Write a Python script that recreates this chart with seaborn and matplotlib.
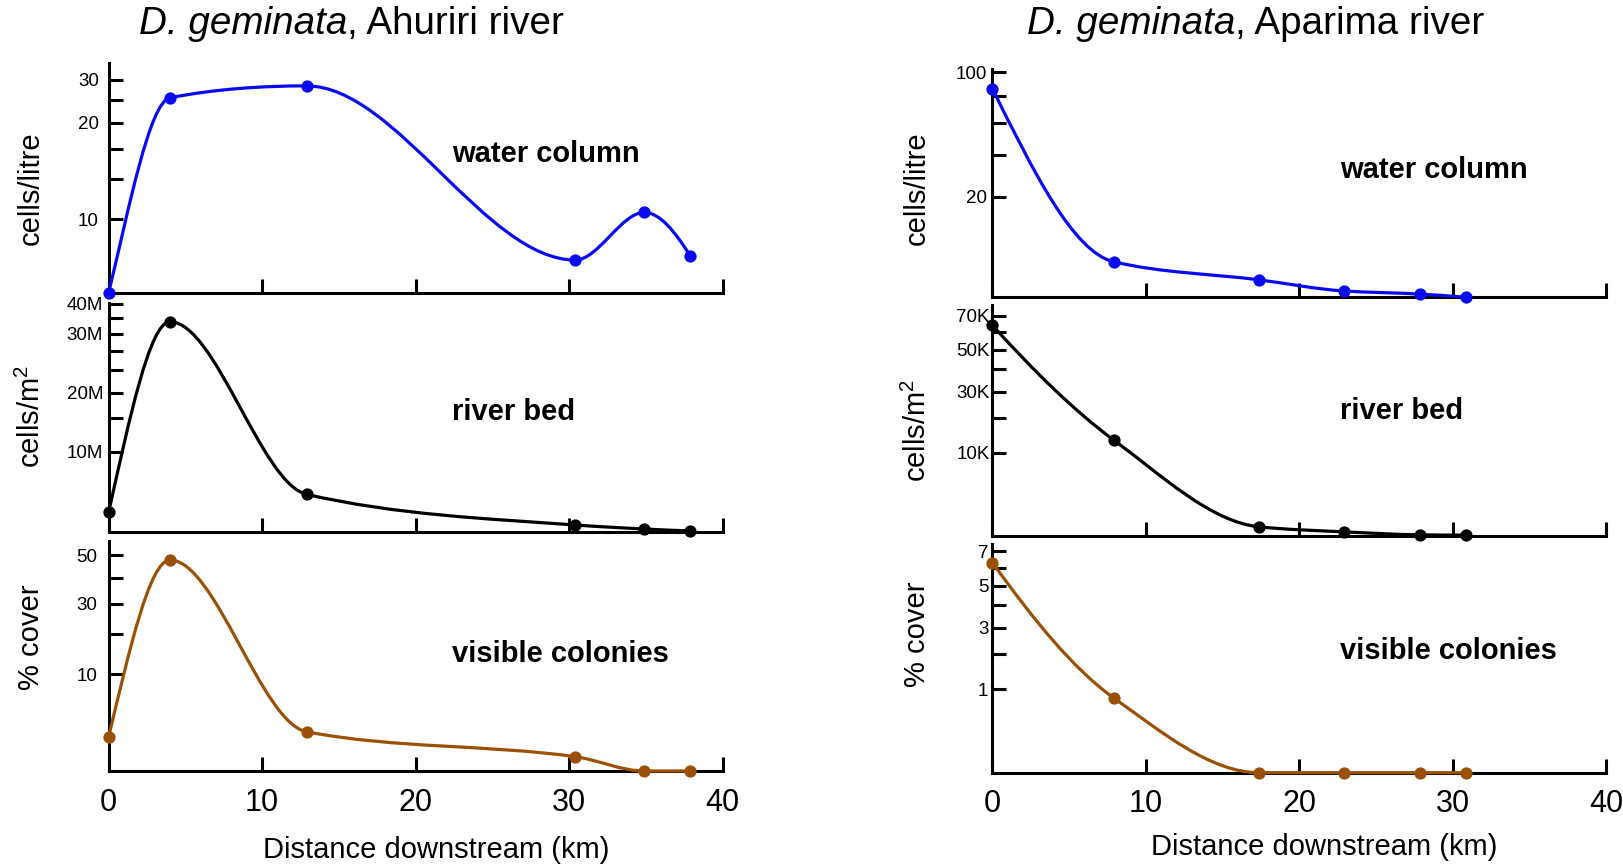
import numpy as np
import matplotlib
matplotlib.use("Agg")
import matplotlib.pyplot as plt
import seaborn as sns
from matplotlib.path import Path
from matplotlib.patches import PathPatch

# ---------------- data ----------------
dist_ahuriri = [0, 4, 12.9, 30.4, 34.9, 37.9]          # km
water_ahuriri = [0, 25.6, 28.5, 2.0, 10.6, 2.5]          # cells/litre
bed_ahuriri = [6.0e5, 3.39e7, 2.2e6, 7.6e4, 1.4e4, 1.6e3]  # cells/m2
cover_ahuriri = [1.24, 47.7, 1.65, 0.22, 0, 0]           # % cover

dist_aparima = [0, 7.9, 17.4, 22.9, 27.9, 30.9]
water_aparima = [86, 2.5, 0.6, 0.08, 0.02, 0]
bed_aparima = [64000, 13300, 120, 25, 2, 1]
cover_aparima = [6.3, 0.8, 0, 0, 0, 0]

x_ticks = [0, 10, 20, 30, 40]
x_tick_labels = ["0", "10", "20", "30", "40"]

water_ahuriri_ticks = [10, 20, 30]
water_ahuriri_labels = ["10", "20", "30"]
water_ahuriri_minor = [13.8, 16.9, 25]
bed_ahuriri_ticks = [1e7, 2e7, 3e7, 4e7]
bed_ahuriri_labels = ["10M", "20M", "30M", "40M"]
bed_ahuriri_minor = [1.53e7, 2.36e7, 2.69e7, 3.5e7]
cover_ahuriri_ticks = [10, 30, 50]
cover_ahuriri_labels = ["10", "30", "50"]
cover_ahuriri_minor = [20, 40]

water_aparima_ticks = [20, 100]
water_aparima_labels = ["20", "100"]
water_aparima_minor = [40, 60, 80]
bed_aparima_ticks = [1e4, 3e4, 5e4, 7e4]
bed_aparima_labels = ["10K", "30K", "50K", "70K"]
bed_aparima_minor = [2e4, 4e4, 6e4]
cover_aparima_ticks = [1, 3, 5, 7]
cover_aparima_labels = ["1", "3", "5", "7"]
cover_aparima_minor = [2, 4, 6]

# ---------------- styling / layout ----------------
W, H = 1623, 867
sns.set_theme(style="white")
plt.rcParams["font.family"] = ["Liberation Sans", "DejaVu Sans"]
plt.rcParams["mathtext.fontset"] = "custom"
plt.rcParams["mathtext.rm"] = "Liberation Sans"
plt.rcParams["mathtext.it"] = "Liberation Sans:italic"
plt.rcParams["mathtext.bf"] = "Liberation Sans:bold"
plt.rcParams["text.color"] = "black"
plt.rcParams["axes.labelcolor"] = "black"
plt.rcParams["xtick.color"] = "black"
plt.rcParams["ytick.color"] = "black"

BLUE = "#0a0af0"
BLACK = "#000000"
BROWN = "#9b5007"

fig = plt.figure(figsize=(W / 100, H / 100), dpi=100)
fig.patch.set_facecolor("white")


def sqrt_piecewise(vals, hts):
    """Square-root-like axis scale, calibrated on the labelled ticks."""
    s = np.sqrt(np.asarray(vals, float))
    h = np.asarray(hts, float)
    hi = (h[-1] - h[-2]) / (s[-1] - s[-2])
    lo = (h[1] - h[0]) / (s[1] - s[0])

    def fwd(v):
        v = np.asarray(v, float)
        sv = np.sign(v) * np.sqrt(np.abs(v))
        out = np.interp(sv, s, h)
        out = np.where(sv > s[-1], h[-1] + (sv - s[-1]) * hi, out)
        out = np.where(sv < s[0], h[0] + (sv - s[0]) * lo, out)
        return out

    def inv(y):
        y = np.asarray(y, float)
        sv = np.interp(y, h, s)
        sv = np.where(y > h[-1], s[-1] + (y - h[-1]) / hi, sv)
        sv = np.where(y < h[0], s[0] + (y - h[0]) / lo, sv)
        return np.sign(sv) * sv ** 2

    return fwd, inv


def pchip_slopes(x, y):
    x = np.asarray(x, float)
    y = np.asarray(y, float)
    hh = np.diff(x)
    d = np.diff(y) / hh
    n = len(x)
    m = np.zeros(n)
    for k in range(1, n - 1):
        if d[k - 1] * d[k] <= 0:
            m[k] = 0.0
        else:
            w1 = 2 * hh[k] + hh[k - 1]
            w2 = hh[k] + 2 * hh[k - 1]
            m[k] = (w1 + w2) / (w1 / d[k - 1] + w2 / d[k])

    def end(h0, h1, d0, d1):
        mm = ((2 * h0 + h1) * d0 - h0 * d1) / (h0 + h1)
        if np.sign(mm) != np.sign(d0):
            return 0.0
        if np.sign(d0) != np.sign(d1) and abs(mm) > abs(3 * d0):
            return 3 * d0
        return mm

    m[0] = end(hh[0], hh[1], d[0], d[1])
    m[-1] = end(hh[-1], hh[-2], d[-1], d[-2])
    return m


def smooth_path(x, vals, fwd, inv):
    """Smooth (Bezier) line through the data points, built in scale space."""
    x = np.asarray(x, float)
    hy = fwd(np.asarray(vals, float))
    m = pchip_slopes(x, hy)
    verts = [(x[0], vals[0])]
    codes = [Path.MOVETO]
    for i in range(len(x) - 1):
        dx = x[i + 1] - x[i]
        c1 = (x[i] + dx / 3, float(inv(hy[i] + m[i] * dx / 3)))
        c2 = (x[i + 1] - dx / 3, float(inv(hy[i + 1] - m[i + 1] * dx / 3)))
        verts += [c1, c2, (x[i + 1], vals[i + 1])]
        codes += [Path.CURVE4] * 3
    return Path(verts, codes)


panels = [
    # x0, x1, ytop, ybot, xs, ys, color, anchors(vals, heights), ticks, labels, minor, label pad, bottom?
    (108.6, 722.6, 63, 293, dist_ahuriri, water_ahuriri, BLUE,
     ([0, 10, 20, 30], [0, 73.7, 170.3, 213]),
     water_ahuriri_ticks, water_ahuriri_labels, water_ahuriri_minor, 7, False),
    (108.6, 722.6, 302.7, 532, dist_ahuriri, bed_ahuriri, BLACK,
     ([0, 1e7, 2e7, 3e7, 4e7], [0, 80.3, 139.3, 198, 228]),
     bed_ahuriri_ticks, bed_ahuriri_labels, bed_ahuriri_minor, 4, False),
    (108.6, 722.6, 541, 771, dist_ahuriri, cover_ahuriri, BROWN,
     ([0, 50], [0, 216]),
     cover_ahuriri_ticks, cover_ahuriri_labels, cover_ahuriri_minor, 8, True),
    (992.4, 1606, 69.3, 297.3, dist_aparima, water_aparima, BLUE,
     ([0, 20], [0, 100.6]),
     water_aparima_ticks, water_aparima_labels, water_aparima_minor, 4, False),
    (992.4, 1606, 305, 536, dist_aparima, bed_aparima, BLACK,
     ([0, 1e4], [0, 83.3]),
     bed_aparima_ticks, bed_aparima_labels, bed_aparima_minor, 2, False),
    (992.4, 1606, 544.3, 772.7, dist_aparima, cover_aparima, BROWN,
     ([0, 1], [0, 83.7]),
     cover_aparima_ticks, cover_aparima_labels, cover_aparima_minor, 3, True),
]

axes = []
for (x0, x1, yt, yb, xs, ys, col, anch, ticks, labels, minor, pad, bottom) in panels:
    ax = fig.add_axes([x0 / W, 1 - yb / H, (x1 - x0) / W, (yb - yt) / H])
    axes.append(ax)
    ax.set_facecolor("none")
    fwd, inv = sqrt_piecewise(*anch)
    ax.set_yscale("function", functions=(fwd, inv))

    ax.add_patch(PathPatch(smooth_path(xs, ys, fwd, inv), fill=False,
                           edgecolor=col, lw=2.3, zorder=3, clip_on=False,
                           capstyle="round", joinstyle="round"))
    sns.scatterplot(x=xs, y=ys, ax=ax, color=col, s=78, linewidth=0,
                    zorder=5, clip_on=False, legend=False)

    ax.set_xlim(0, 40)
    ax.set_ylim(0, float(inv(yb - yt)))
    for sp in ("top", "right"):
        ax.spines[sp].set_visible(False)
    for sp in ("left", "bottom"):
        ax.spines[sp].set_linewidth(2.2)
        ax.spines[sp].set_color("black")
        ax.spines[sp].set_zorder(2.5)

    ax.set_xticks(x_ticks)
    ax.set_xticklabels(x_tick_labels if bottom else [""] * len(x_ticks))
    ax.set_yticks(ticks)
    ax.set_yticklabels(labels)
    ax.set_yticks(minor, minor=True)
    ax.set_xticks([], minor=True)
    ax.tick_params(axis="both", which="both", direction="in", length=9.8,
                   width=2.2, color="black", labelcolor="black",
                   left=True, bottom=True, top=False, right=False)
    ax.tick_params(axis="y", which="major", labelsize=13.5, pad=pad)
    ax.tick_params(axis="x", which="major", labelsize=22, pad=12,
                   labelbottom=bottom)
    ax.set_xlabel("")
    ax.set_ylabel("")


def ftext(px, py, s, **kw):
    return fig.text(px / W, 1 - py / H, s, color="black", **kw)


# titles: italic species name followed by regular river name
for px, river in [(139, "Ahuriri river"), (1027, "Aparima river")]:
    t1 = ftext(px, 24, "D. geminata", ha="left", va="center", fontsize=27.8,
               fontstyle="italic")
    axes[0].annotate(", " + river, xy=(1, 0), xycoords=t1, ha="left",
                     va="bottom", fontsize=27.8, color="black",
                     annotation_clip=False)

# panel labels
for px, py, s in [(452, 154, "water column"), (452, 412, "river bed"),
                  (452, 654, "visible colonies"), (1340, 170, "water column"),
                  (1340, 411, "river bed"), (1340, 651, "visible colonies")]:
    ftext(px, py, s, ha="left", va="center", fontsize=21, fontweight="bold")

# y-axis titles
for px, py, s in [(31, 188, "cells/litre"), (31, 416, r"cells/m$^2$"), (31, 637, "% cover"),
                  (917, 188, "cells/litre"), (917, 430, r"cells/m$^2$"), (917, 634, "% cover")]:
    ftext(px, py, s, ha="center", va="center", rotation=90, fontsize=21)

# x-axis titles
ftext(436, 850, "Distance downstream (km)", ha="center", va="center", fontsize=21)
ftext(1324, 847, "Distance downstream (km)", ha="center", va="center", fontsize=21)

fig.savefig("out.png", dpi=100, facecolor="white")
